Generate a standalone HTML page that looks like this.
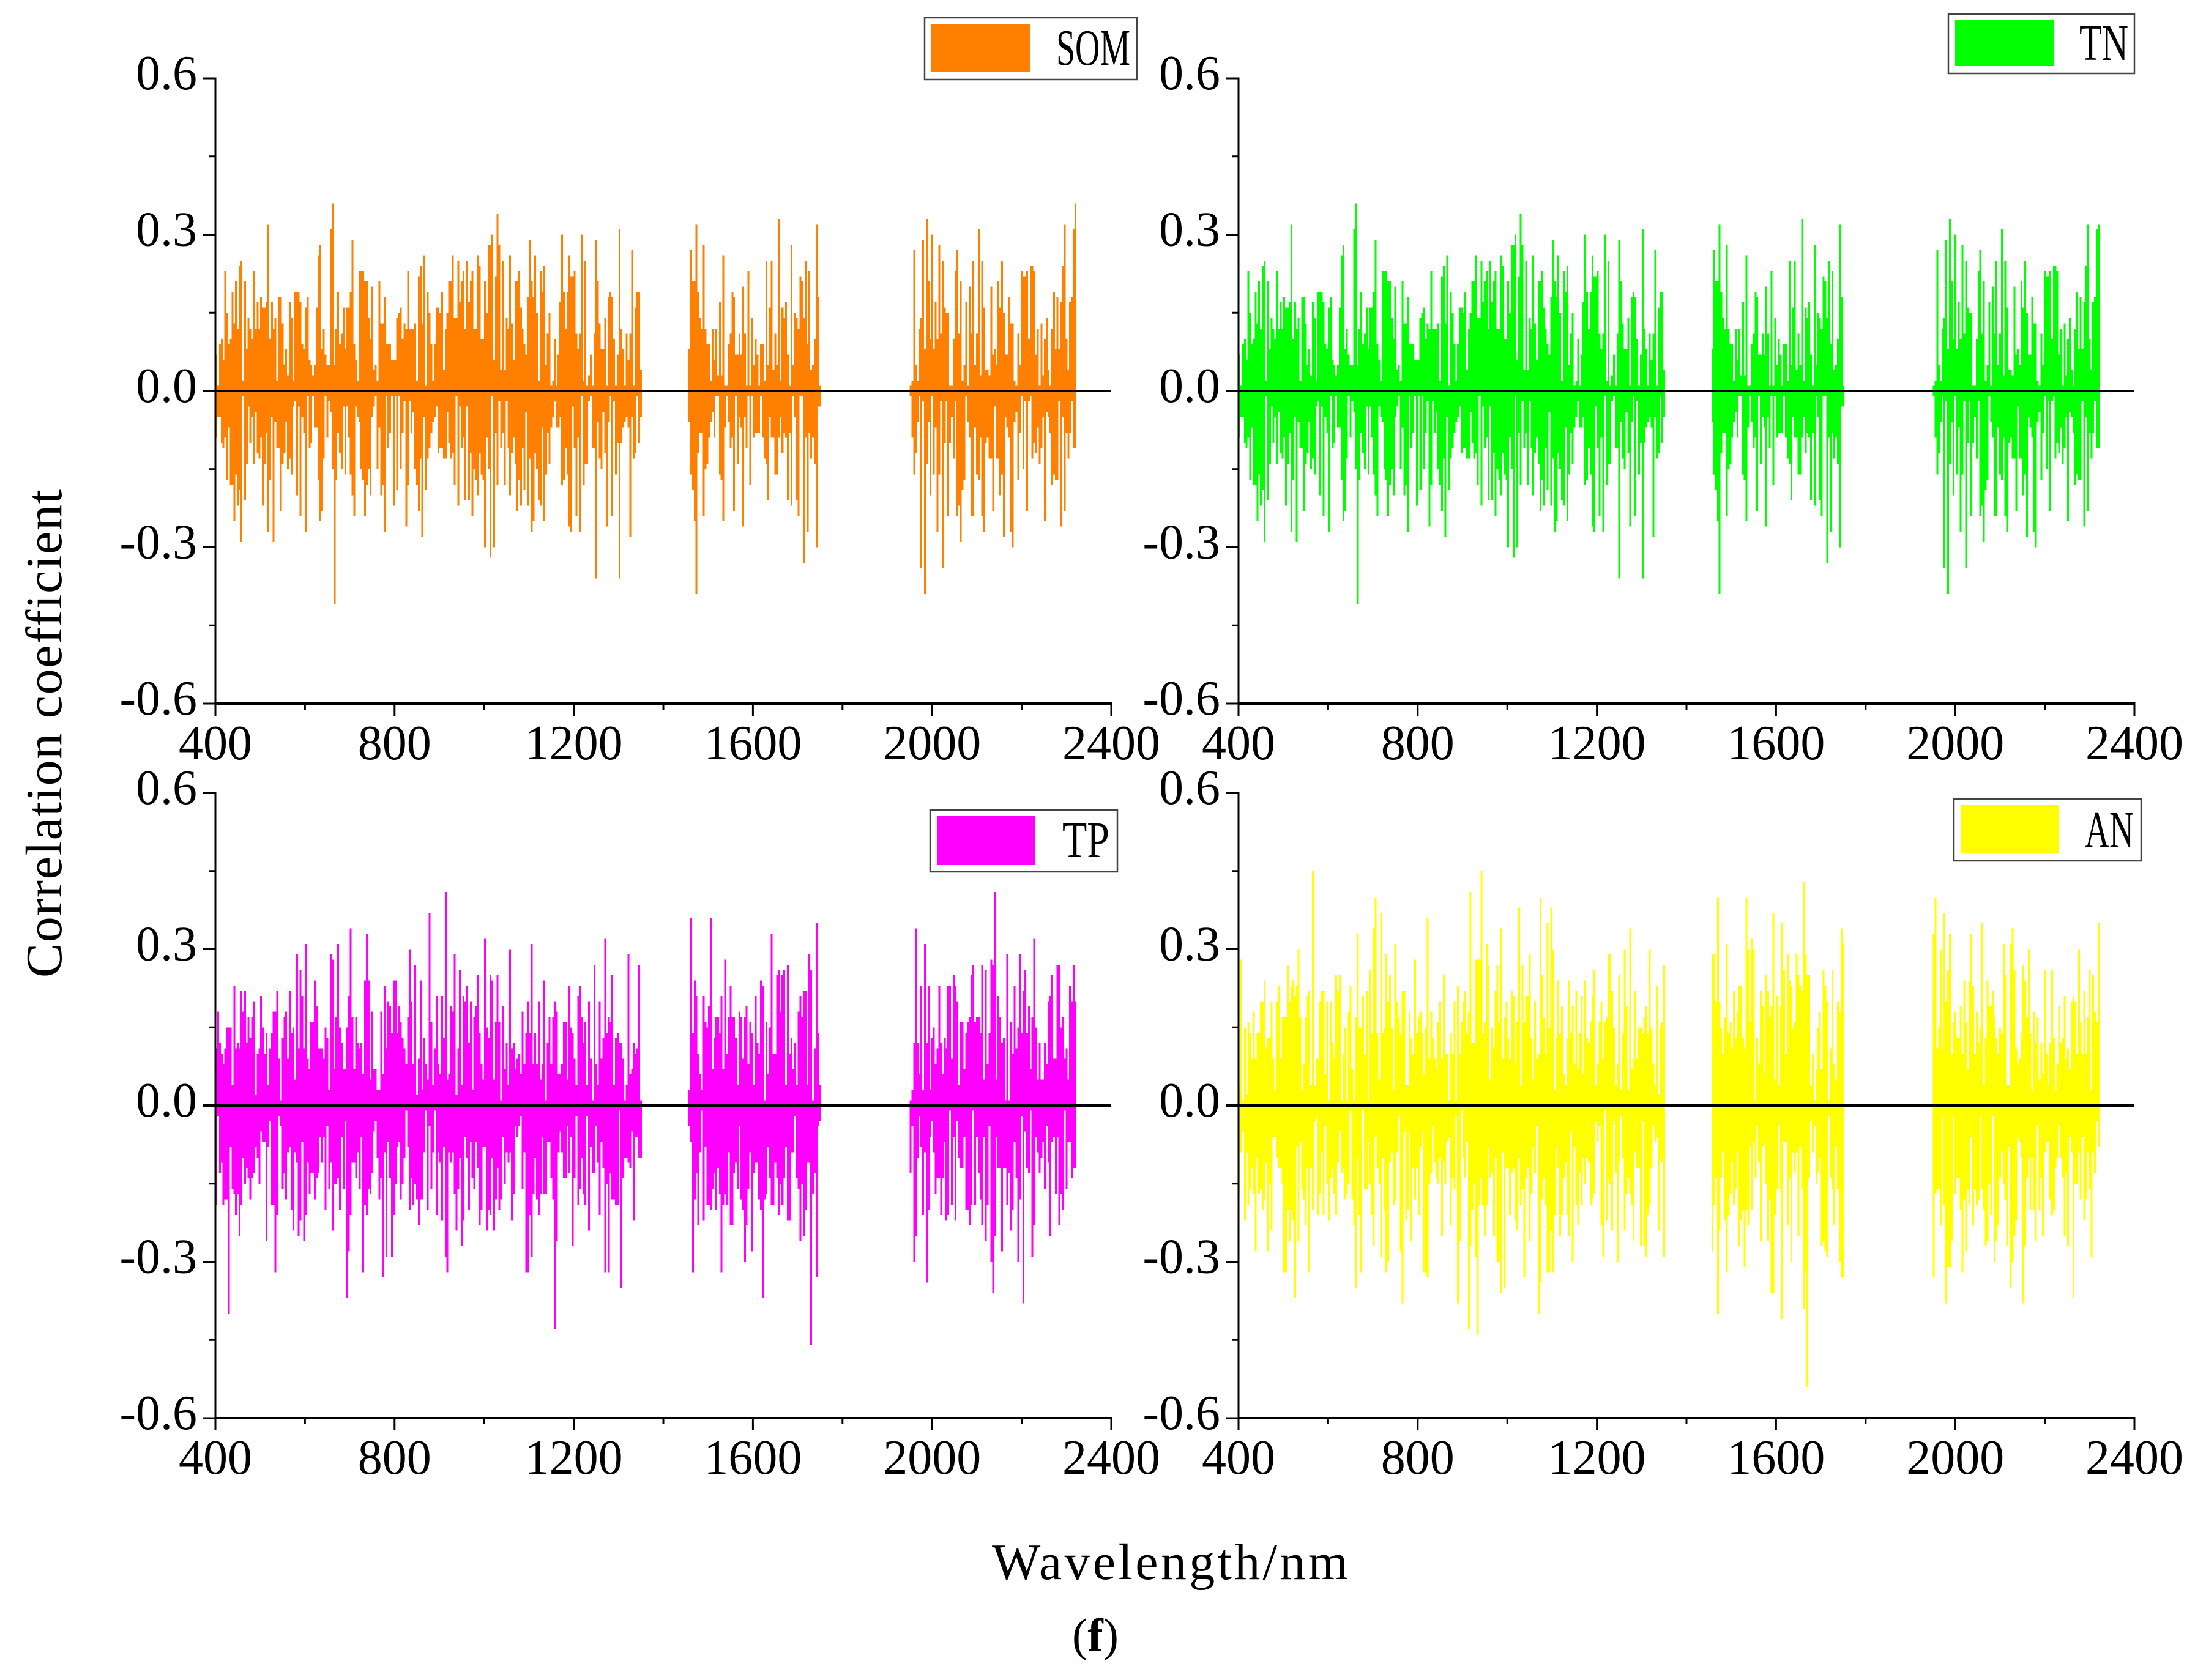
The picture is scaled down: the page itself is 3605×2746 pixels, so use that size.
<!DOCTYPE html>
<html lang="en">
<head>
<meta charset="utf-8">
<title>Correlation coefficient by wavelength</title>
<style>
html,body{margin:0;padding:0;background:#fff}
svg{display:block}
text{font-family:"Liberation Serif",serif;fill:#000}
</style>
</head>
<body>
<svg id="chart" xmlns="http://www.w3.org/2000/svg" width="3605" height="2746" viewBox="0 0 3605 2746">
<rect x="0" y="0" width="3605" height="2746" fill="#fff"/>
<text transform="translate(100,1199) rotate(-90)" text-anchor="middle" font-size="84" textLength="798" lengthAdjust="spacing">Correlation coefficient</text>
<text x="1912" y="2581" text-anchor="middle" font-size="84" textLength="582" lengthAdjust="spacing">Wavelength/nm</text>
<text x="1790" y="2698" text-anchor="middle" font-size="76">(<tspan font-weight="bold">f</tspan>)</text>
</svg>
<script>
// Wavelength bands: first wavelength of each band and sampling step (nm)
const bandStarts = [400, 1456, 1950];
const wavelengthStep = 4;
// Axis ticks
const xMajorTicks = [400, 800, 1200, 1600, 2000, 2400];
const xMinorTicks = [600, 1000, 1400, 1800, 2200];
const yMajorTicks = [0.6, 0.3, 0, -0.3, -0.6];
const yMinorTicks = [0.45, 0.15, -0.15, -0.45];
const yTickLabels = ["0.6", "0.3", "0.0", "-0.3", "-0.6"];
const xTickLabels = ["400", "800", "1200", "1600", "2000", "2400"];

// Bar heights in hundredths of a correlation unit, upper (Pos) and lower (Neg) envelope per band
const somPos1 = [7,1,9,10,6,23,15,9,10,19,13,21,12,24,25,2,21,8,14,12,
10,23,12,17,12,18,16,16,17,32,10,17,12,14,2,18,18,13,5,8,
3,17,14,2,19,19,19,17,9,8,16,18,6,5,3,5,16,26,28,8,
12,7,5,5,31,36,5,12,19,9,11,16,8,16,16,19,29,9,6,2,
23,23,23,21,21,14,10,20,4,5,2,21,13,13,18,9,9,9,6,6,
6,14,15,16,10,13,12,23,12,12,12,13,2,22,24,13,26,1,19,15,
9,2,9,16,16,15,19,4,12,15,21,21,26,14,14,25,17,21,23,12,
25,17,21,23,12,12,26,24,10,10,21,15,28,28,30,6,22,34,28,4,
25,4,14,12,26,13,6,21,21,23,16,12,9,7,18,29,21,18,26,15,
2,23,19,24,5,11,15,1,2,10,1,7,17,30,19,12,19,26,22,22,
23,11,8,11,30,2,25,1,3,7,1,11,29,21,13,8,8,14,1,18,
19,18,10,1,7,31,12,8,1,11,6,11,27,1,16,19,19,4];
const somPos2 = [8,27,21,21,32,19,14,12,28,12,9,9,2,12,6,12,3,17,3,26,
1,1,9,11,19,18,7,7,11,7,20,11,1,23,1,14,5,10,7,1,
9,9,2,25,5,16,25,4,11,5,33,2,16,14,17,7,1,28,5,15,
14,12,22,21,14,25,9,23,4,5,10,32,18,1];
const somPos3 = [1,2,27,5,2,12,14,29,8,33,21,10,30,8,17,10,28,11,25,16,
15,15,1,1,10,23,27,11,21,2,5,17,1,20,11,25,5,11,31,3,
25,16,4,4,3,20,7,8,5,21,16,25,15,7,7,18,13,13,2,1,
11,5,23,22,22,23,10,24,24,23,7,12,1,13,3,10,14,4,1,12,
19,8,18,8,17,24,32,10,4,17,18,31,36];
const somNeg1 = [9,5,5,10,11,9,17,7,18,18,25,16,22,19,29,1,21,14,3,10,
5,14,4,12,13,9,22,14,8,27,17,5,29,6,11,11,23,14,12,6,
15,13,16,3,2,20,3,24,5,8,27,1,11,10,1,7,7,17,25,23,
13,1,9,2,4,15,41,17,8,12,15,3,16,3,9,16,20,24,3,5,
6,15,17,24,18,15,20,5,3,1,15,7,20,18,27,1,11,8,1,22,
1,19,1,15,8,2,26,18,2,8,4,15,18,23,13,28,5,19,13,11,
8,6,5,3,12,11,11,13,13,4,10,13,12,18,1,22,3,11,9,21,
3,21,12,24,15,17,20,12,16,17,30,9,15,32,1,30,8,18,2,11,
8,18,2,11,20,12,9,14,23,17,22,11,19,4,22,13,27,25,12,15,
21,22,7,25,16,8,14,7,5,2,7,7,5,18,17,11,16,26,27,3,
11,24,9,27,1,18,14,14,2,1,11,11,36,6,13,15,4,12,26,6,
1,24,2,16,10,36,10,7,6,5,7,28,5,13,12,1,10,5];
const somNeg2 = [6,16,19,25,39,12,8,8,24,15,14,9,6,4,9,1,1,16,17,25,
7,1,6,11,9,23,1,14,5,7,26,5,11,1,18,1,9,8,8,8,
1,9,13,14,21,5,9,9,16,16,9,5,12,8,9,21,8,22,1,5,
21,24,1,1,33,9,27,8,13,9,14,30,3,3];
const somNeg3 = [1,9,16,12,6,1,34,2,39,14,6,20,1,16,7,27,16,2,34,10,
2,24,10,5,13,2,24,22,29,19,17,1,6,9,24,24,7,16,17,9,
24,27,10,9,13,13,23,3,13,13,20,16,28,5,7,9,27,30,6,4,
17,8,1,15,2,23,2,1,13,10,12,7,14,11,5,25,4,5,8,18,
16,17,17,2,26,5,23,8,13,8,2,11,11];

const tnPos1 = [7,1,9,10,6,23,15,9,10,19,13,21,12,24,25,2,21,8,14,12,
10,23,12,17,12,18,16,16,17,32,10,17,12,14,2,18,18,13,5,8,
3,17,14,2,19,19,19,17,9,8,16,18,6,5,3,5,16,26,28,8,
12,7,5,5,31,36,5,12,19,9,11,16,8,16,16,19,29,9,6,2,
23,23,23,21,21,14,10,20,4,5,2,21,13,13,18,9,9,9,6,6,
6,14,15,16,10,13,12,23,12,12,12,13,2,22,24,13,26,1,19,15,
9,2,9,16,16,15,19,4,12,15,21,21,26,14,14,25,17,21,23,12,
25,17,21,23,12,12,26,24,10,10,21,15,28,28,30,6,22,34,28,4,
25,4,14,12,26,13,6,21,21,23,16,12,9,7,18,29,21,18,26,15,
2,23,19,24,5,11,15,1,2,10,1,7,17,30,19,12,19,26,22,22,
23,11,8,11,30,2,25,1,3,7,1,11,29,21,13,8,8,14,1,18,
19,18,10,1,7,31,12,8,1,11,6,11,27,1,16,19,19,4];
const tnPos2 = [8,27,21,21,32,19,14,12,28,12,9,9,2,12,6,12,3,17,3,26,
1,1,9,11,19,18,7,7,11,7,20,11,1,23,1,14,5,10,7,1,
9,9,2,25,5,16,25,4,11,5,33,2,16,14,17,7,1,28,5,15,
14,12,22,21,14,25,9,23,4,5,10,32,18,1];
const tnPos3 = [1,2,27,5,2,12,14,29,8,33,21,10,30,8,17,10,28,11,25,16,
15,15,1,1,10,23,27,11,21,2,5,17,1,20,11,25,5,11,31,3,
25,16,4,4,3,20,7,8,5,21,16,25,15,7,7,18,13,13,2,1,
11,5,23,22,22,23,10,24,24,23,7,12,1,13,3,10,14,4,1,12,
19,8,18,8,17,24,32,10,4,17,18,31,32];
const tnNeg1 = [9,5,5,10,11,9,17,7,18,18,25,16,22,19,29,1,21,14,3,10,
5,14,4,12,13,9,22,14,8,27,17,5,29,6,11,11,23,14,12,6,
15,13,16,3,2,20,3,24,5,8,27,1,11,10,1,7,7,17,25,23,
13,1,9,2,4,15,41,17,8,12,15,3,16,3,9,16,20,24,3,5,
6,15,17,24,18,15,20,5,3,1,15,7,20,18,27,1,11,8,1,22,
1,19,1,15,8,2,26,18,2,8,4,15,18,23,13,28,5,19,13,11,
8,6,5,3,12,11,11,13,13,4,10,13,12,18,1,22,3,11,9,21,
3,21,12,24,15,17,20,12,16,17,30,9,15,32,1,30,8,18,2,11,
8,18,2,11,20,12,9,14,23,17,22,11,19,4,22,13,27,25,12,15,
21,22,7,25,16,8,14,7,5,2,7,7,5,18,17,11,16,26,27,3,
11,24,9,27,1,18,14,14,2,1,11,11,36,6,13,15,4,12,26,6,
1,24,2,16,10,36,10,7,6,5,7,28,5,13,12,1,10,5];
const tnNeg2 = [6,16,19,25,39,12,8,8,24,15,14,9,6,4,9,1,1,16,17,25,
7,1,6,11,9,23,1,14,5,7,26,5,11,1,18,1,9,8,8,8,
1,9,13,14,21,5,9,9,16,16,9,5,12,8,9,21,8,22,1,5,
21,24,1,1,33,9,27,8,13,9,14,30,3,3];
const tnNeg3 = [1,9,16,12,6,1,34,2,39,14,6,20,1,16,7,27,16,2,34,10,
2,24,10,5,13,2,24,22,29,19,17,1,6,9,24,24,7,16,17,9,
24,27,10,9,13,13,23,3,13,13,20,16,28,5,7,9,27,30,6,4,
17,8,1,15,2,23,2,1,13,10,12,7,14,11,5,25,4,5,8,18,
16,17,17,2,26,5,23,8,13,8,2,11,11];

const tpPos1 = [11,18,12,10,8,11,15,15,15,4,23,11,12,11,22,18,22,12,17,13,
17,20,2,10,11,21,15,10,14,4,11,14,18,18,22,9,1,13,17,18,
9,22,14,15,5,29,11,26,21,11,31,9,7,16,16,24,19,11,11,11,
9,15,13,3,29,28,7,17,31,15,12,7,7,15,21,34,17,7,17,12,
11,12,6,24,33,24,5,18,7,7,3,3,18,6,23,11,20,19,14,24,
24,14,19,16,13,11,8,17,30,20,8,27,2,9,24,3,13,8,5,37,
16,4,11,21,8,6,21,13,41,5,6,19,18,29,2,11,26,4,21,20,
23,12,20,3,17,19,25,14,8,5,32,15,13,25,24,5,16,25,16,1,
19,7,12,4,30,11,12,7,9,10,6,18,8,14,20,14,31,8,14,8,
20,5,8,24,1,12,17,8,17,20,18,6,6,8,16,16,5,23,15,14,
9,4,21,23,17,12,16,4,20,9,1,27,8,4,20,9,13,32,14,17,
16,25,4,13,14,12,12,9,1,4,29,6,7,12,10,11,27,1];
const tpPos2 = [3,36,14,24,21,10,6,3,21,16,15,19,36,7,13,17,17,14,21,7,
28,10,17,23,17,17,13,4,18,17,9,17,19,8,16,14,4,21,12,10,
24,23,1,16,6,15,33,10,10,25,26,18,25,26,4,27,10,13,7,12,
4,18,21,17,22,22,4,29,26,1,11,35,14,4];
const tpPos3 = [1,3,12,34,12,6,23,3,31,12,23,3,13,15,8,11,23,12,6,13,
11,23,23,9,25,23,20,4,16,16,7,14,16,17,25,27,16,17,17,14,
27,5,26,8,14,28,27,41,5,21,17,12,13,1,29,1,16,10,23,11,
15,29,14,22,26,14,19,7,17,32,15,5,12,5,5,12,8,20,21,25,
9,9,27,27,15,17,9,11,5,23,20,27,20];
const tpNeg1 = [19,2,13,11,19,18,18,40,8,16,17,21,17,25,19,10,15,12,14,18,
14,13,8,10,15,5,7,7,26,8,3,19,19,32,21,2,4,16,13,18,
9,8,20,24,9,11,25,22,7,26,21,11,17,13,13,18,14,13,6,11,
6,20,4,16,11,24,15,15,14,20,6,16,3,37,28,21,11,11,14,9,
16,6,32,19,21,16,17,13,5,3,10,18,14,33,9,29,7,14,29,21,
15,8,7,18,15,10,1,8,20,14,19,15,18,23,18,18,9,1,20,4,
16,9,1,21,9,11,22,8,29,32,9,11,9,17,24,16,10,27,22,6,
10,20,7,14,16,7,12,23,20,8,8,24,20,21,10,24,18,12,20,18,
6,15,9,11,9,22,17,4,6,4,2,16,9,32,32,21,29,17,10,18,
21,17,6,17,17,7,7,14,18,43,26,9,5,9,14,14,4,13,6,27,
14,2,19,16,10,17,19,2,24,8,13,13,4,11,21,7,12,32,15,32,
13,18,18,19,19,1,35,14,10,10,11,12,5,22,6,6,10,10];
const tpNeg2 = [4,7,32,18,13,23,9,1,22,8,19,19,20,16,13,20,12,17,32,19,
17,19,9,23,23,13,11,16,4,18,20,30,23,16,9,28,13,11,11,18,
20,37,18,17,8,14,19,19,11,14,21,15,19,14,8,22,22,9,9,2,
14,16,26,15,25,20,11,11,46,17,13,33,4,3];
const tpNeg3 = [13,4,30,25,10,2,8,21,9,34,20,6,3,9,17,14,14,21,14,7,
22,21,1,19,6,22,3,10,12,12,6,20,20,23,19,1,19,6,13,18,
23,6,26,19,4,30,36,25,6,12,12,28,12,12,19,13,24,20,7,14,
30,18,2,38,5,12,13,1,29,23,6,9,13,10,7,16,4,11,25,7,
6,17,6,23,17,20,1,16,7,7,14,12,12];

const anPos1 = [4,28,1,15,2,16,14,9,18,9,14,14,20,20,24,11,13,13,20,9,
3,20,23,9,17,17,17,27,20,23,24,21,23,30,17,3,8,17,21,22,
4,45,4,9,9,20,22,22,6,20,1,20,12,9,25,22,25,1,10,15,
1,18,23,7,1,17,33,15,15,21,10,22,1,26,14,34,40,14,5,37,
14,15,29,20,25,15,3,31,20,17,14,22,22,4,4,18,13,10,28,14,
17,18,14,6,15,36,9,18,13,9,7,16,20,9,25,10,10,1,14,10,
20,1,23,10,16,20,22,14,18,41,12,12,28,28,28,45,14,16,31,27,
5,15,11,22,27,16,34,9,17,20,13,9,22,21,8,16,38,4,27,16,
21,21,29,13,5,20,9,10,40,25,17,10,35,15,38,30,3,13,24,14,
19,6,4,13,24,14,19,8,22,7,14,21,6,24,13,12,16,21,26,4,
8,16,20,9,16,17,29,29,22,15,4,8,25,3,14,30,19,3,34,7,
9,22,9,15,15,14,17,19,14,30,15,8,4,23,2,15,16,27];
const anPos2 = [29,29,20,40,20,15,10,17,31,14,16,11,22,13,18,23,23,13,11,40,
30,16,32,30,1,13,8,22,19,6,25,22,17,19,37,5,21,4,19,35,
26,10,29,24,23,15,16,29,25,23,22,43,29,25,25,4,10,1,7,15,
18,7,26,23,20,1,11,26,8,5,20,18,34,31];
const anPos3 = [33,40,11,15,30,11,37,20,26,33,10,16,18,13,13,19,10,24,16,7,
24,33,23,10,18,12,15,35,4,13,24,19,19,22,17,13,10,15,14,31,
25,4,4,31,34,26,11,8,9,14,27,24,17,30,14,3,18,12,17,5,
12,6,26,10,4,12,26,13,3,8,19,12,13,21,9,11,7,20,21,20,
10,30,16,10,22,10,17,26,3,25,18,16,35];
const anNeg1 = [17,9,5,22,9,19,16,12,17,28,10,17,16,20,18,11,28,15,24,6,
6,10,12,12,15,32,32,20,26,20,22,37,8,26,7,16,18,23,12,32,
12,20,3,2,21,17,9,21,4,15,22,14,12,17,21,11,5,13,12,18,
17,15,1,18,23,35,10,21,32,1,16,16,7,15,21,27,6,12,15,29,
10,20,32,30,11,9,19,18,9,2,28,38,5,22,20,5,26,12,18,12,
21,8,5,32,32,33,15,13,4,11,14,15,10,25,11,15,7,6,23,14,
16,2,38,26,1,10,14,7,43,27,20,15,29,44,19,14,19,25,19,8,
14,13,25,10,30,30,36,9,35,12,12,21,13,12,22,24,10,19,16,33,
14,12,26,17,8,13,4,40,34,18,14,19,32,32,24,32,21,8,12,25,
21,14,11,21,25,5,30,8,19,23,13,19,10,15,10,11,19,18,17,3,
7,4,23,29,1,22,14,15,24,3,13,30,11,2,10,24,17,14,17,19,
26,9,12,12,27,3,27,29,21,19,12,4,7,6,24,10,11,29];
const anNeg2 = [28,19,14,40,24,14,9,22,32,21,17,11,19,16,9,27,22,20,31,20,
23,8,20,7,14,4,11,26,8,7,15,26,18,36,36,21,16,4,16,41,
7,7,23,14,30,9,13,9,25,8,16,39,32,54,14,3,9,4,15,13,
10,27,26,28,29,2,14,16,23,8,16,30,33,33];
const anNeg3 = [33,17,16,16,23,2,19,38,31,31,26,2,17,14,14,20,32,18,28,16,
19,6,23,16,19,18,2,16,20,27,26,15,21,2,30,26,23,14,9,15,
18,27,8,35,30,25,22,6,7,10,38,27,14,10,20,10,20,26,4,20,
14,25,9,7,7,18,21,20,12,10,4,10,14,25,13,27,6,9,37,15,
15,9,18,6,22,18,9,16,29,9,13,3,8];

// Axis scales
const wavelengthMin = 400, wavelengthMax = 2400, corrMin = -0.6, corrMax = 0.6;
const plotWidth = 1464, plotHeight = 1022;
function xAxis(nm, left) { return left + (nm - wavelengthMin) / (wavelengthMax - wavelengthMin) * plotWidth; }
function yAxis(v, top) { return top + (corrMax - v) / (corrMax - corrMin) * plotHeight; }

const svg = document.getElementById('chart');
const NS = 'http://www.w3.org/2000/svg';
function make(tag, attrs, parent) {
  const el = document.createElementNS(NS, tag);
  for (const k in attrs) el.setAttribute(k, attrs[k]);
  parent.appendChild(el);
  return el;
}

const panels = [
  {key:'som', label:'SOM', color:'#ff8000', left:352,  top:128,  pos:[somPos1,somPos2,somPos3], neg:[somNeg1,somNeg2,somNeg3],
   box:[1511,29,347,101], swatch:[1521,39,162,79], text:[1726,106,121]},
  {key:'tn',  label:'TN',  color:'#00ff00', left:2024, top:128,  pos:[tnPos1,tnPos2,tnPos3], neg:[tnNeg1,tnNeg2,tnNeg3],
   box:[3184,23,304,97], swatch:[3195,32,162,76], text:[3398,98,80]},
  {key:'tp',  label:'TP',  color:'#ff00ff', left:352,  top:1296, pos:[tpPos1,tpPos2,tpPos3], neg:[tpNeg1,tpNeg2,tpNeg3],
   box:[1520,1324,306,101], swatch:[1531,1334,161,80], text:[1736,1401,77]},
  {key:'an',  label:'AN',  color:'#ffff00', left:2024, top:1296, pos:[anPos1,anPos2,anPos3], neg:[anNeg1,anNeg2,anNeg3],
   box:[3193,1306,306,101], swatch:[3204,1316,161,79], text:[3407,1384,80]}
];

panels.forEach(function (p) {
  const g = make('g', {}, svg);
  
  
  const barWidth = wavelengthStep / (wavelengthMax - wavelengthMin) * plotWidth + 0.1;
  const y0 = yAxis(0, p.top);

  bandStarts.forEach(function (start, b) {
    p.pos[b].forEach(function (v, i) {
      const x = xAxis(start + i * wavelengthStep, p.left);
      const y = yAxis(v / 100, p.top);
      const bar = make('rect', {x:x, y:y, width:barWidth, height:y0 - y, fill:p.color, 'shape-rendering':'crispEdges'}, g);
      
      
    });
    p.neg[b].forEach(function (v, i) {
      const x = xAxis(start + i * wavelengthStep, p.left);
      const y = yAxis(-v / 100, p.top);
      const bar = make('rect', {x:x, y:y0, width:barWidth, height:y - y0, fill:p.color, 'shape-rendering':'crispEdges'}, g);
      
      
    });
  });

  const zero = make('line', {x1:p.left - 20, x2:p.left + plotWidth, y1:y0, y2:y0, stroke:'#000', 'stroke-width':4}, g);
  
  

  const bottom = yAxis(corrMin, p.top);
  const yLine = make('line', {x1:p.left, x2:p.left, y1:p.top - 1.5, y2:bottom + 1.5, stroke:'#000', 'stroke-width':3}, g);
  
  
  const xLine = make('line', {x1:p.left - 1.5, x2:p.left + plotWidth + 1.5, y1:bottom, y2:bottom, stroke:'#000', 'stroke-width':4}, g);
  
  

  yMajorTicks.forEach(function (v, i) {
    const y = yAxis(v, p.top);
    const t = make('line', {x1:p.left - 20, x2:p.left, y1:y, y2:y, stroke:'#000', 'stroke-width':3}, g);
    
    
    const l = make('text', {x:p.left - 30, y:y + 18, 'text-anchor':'end', 'font-size':80}, g);
    l.textContent = yTickLabels[i];
    
    
  });
  yMinorTicks.forEach(function (v) {
    const y = yAxis(v, p.top);
    const t = make('line', {x1:p.left - 10, x2:p.left, y1:y, y2:y, stroke:'#000', 'stroke-width':3}, g);
    
    
  });
  xMajorTicks.forEach(function (nm, i) {
    const x = xAxis(nm, p.left);
    const t = make('line', {x1:x, x2:x, y1:bottom, y2:bottom + 20, stroke:'#000', 'stroke-width':3}, g);
    
    
    const l = make('text', {x:x, y:bottom + 91, 'text-anchor':'middle', 'font-size':80}, g);
    l.textContent = xTickLabels[i];
    
    
  });
  xMinorTicks.forEach(function (nm) {
    const x = xAxis(nm, p.left);
    const t = make('line', {x1:x, x2:x, y1:bottom, y2:bottom + 10, stroke:'#000', 'stroke-width':3}, g);
    
    
  });

  const legend = make('g', {}, g);
  
  
  const box = make('rect', {x:p.box[0], y:p.box[1], width:p.box[2], height:p.box[3], fill:'#fff', stroke:'#444', 'stroke-width':2.5}, legend);
  
  
  const sw = make('rect', {x:p.swatch[0], y:p.swatch[1], width:p.swatch[2], height:p.swatch[3], fill:p.color}, legend);
  
  
  const txt = make('text', {x:p.text[0], y:p.text[1], 'font-size':84, textLength:p.text[2], lengthAdjust:'spacingAndGlyphs'}, legend);
  txt.textContent = p.label;
  
  
});
</script>
</body>
</html>
